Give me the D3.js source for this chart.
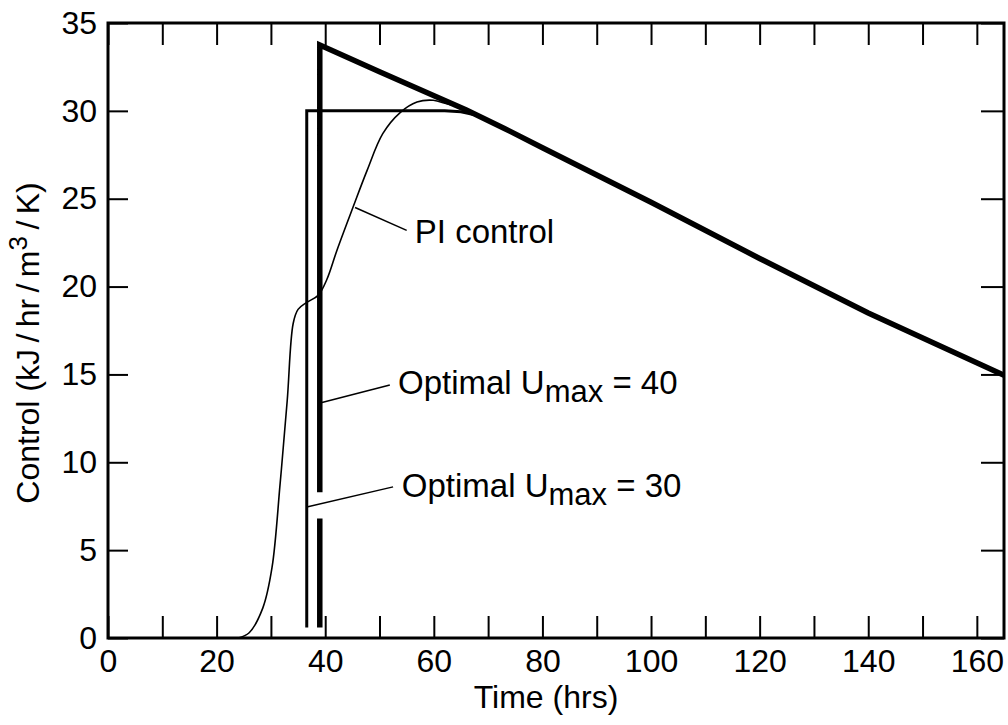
<!DOCTYPE html>
<head>
  <meta charset="utf-8">
  <style>
    body { margin: 0; background: #fff; }
    svg text { font-family: "Liberation Sans", Arial, sans-serif; fill: #000; }
    svg .tick line { stroke: #000; stroke-width: 2px; }
    svg .tick text { font-size: 32px; }
    svg .domain { display: none; }
    svg .frame { fill: none; stroke: #000; stroke-width: 3px; }
    svg .leader { stroke: #000; stroke-width: 1.5px; }
  </style>
</head>

<body>
<script src="https://d3js.org/d3.v7.min.js"></script>

<script>
  // axis ticks
  var xTicks = d3.range(0, 161, 10);
  var yTicks = d3.range(0, 36, 5);

  // PI control (thin line), merges into the optimal curve near t = 66
  var piControl = [
    [24, 0], [26, 0.3], [28.5, 1.7], [30.2, 4.0], [31.7, 8.8], [33, 13.5],
    [34.1, 17.9], [35, 18.7], [36.6, 19.1], [38.7, 19.5], [40.3, 20.4],
    [42.2, 22.1], [45.1, 24.5], [47.7, 26.6], [50.6, 28.7], [53.8, 29.9],
    [56.9, 30.5], [59.9, 30.6], [62.4, 30.4], [65, 30.2], [68, 29.75],
    [80, 27.9], [100, 24.8], [120, 21.6], [140, 18.5], [165, 14.95]
  ];

  // Optimal, Umax = 40 (heavy line); null marks the break behind the leader
  var optimal40 = [
    [39, 0.6], [39, 6.8], [39, null], [39, 8.3], [39, 33.75], [50, 32.22],
    [66, 30.05], [73, 29.0], [80, 27.9], [100, 24.8], [120, 21.6],
    [140, 18.5], [165, 14.95]
  ];

  // Optimal, Umax = 30 (medium line)
  var optimal30 = [
    [36.6, 0.6], [36.6, 30], [62, 30], [65, 29.95], [68, 29.75], [70, 29.45]
  ];

  // labels: leader from [x1,y1] to [x2,y2], text at [tx,ty] (data units)
  var labels = [
    { text: "PI control", sub: null, rest: null, x1: 45.5, y1: 24.5, x2: 55.0, y2: 23.2, tx: 56.5, ty: 22.5 },
    { text: "Optimal U", sub: "max", rest: " = 40", x1: 39.4, y1: 13.4, x2: 51.9, y2: 14.4, tx: 53.4, ty: 13.9 },
    { text: "Optimal U", sub: "max", rest: " = 30", x1: 36.6, y1: 7.45, x2: 52.5, y2: 8.6, tx: 54.1, ty: 8.0 }
  ];

  var margin = { top: 23, right: 4, bottom: 87, left: 108 };
  var W = 1008, H = 725;
  var width = W - margin.left - margin.right,
      height = H - margin.top - margin.bottom;

  var svg = d3.select("body").append("svg")
      .attr("width", W)
      .attr("height", H);

  var g = svg.append("g")
      .attr("transform", "translate(" + margin.left + "," + margin.top + ")");

  var x = d3.scaleLinear().domain([0, 165]).range([0, width]);
  var y = d3.scaleLinear().domain([0, 35]).range([height, 0]);

  // axes, ticks pointing inward
  g.append("g")
      .attr("transform", "translate(0," + height + ")")
      .call(d3.axisBottom(x).tickValues(xTicks).tickSizeInner(-22).tickSizeOuter(0)
        .tickPadding(11)
        .tickFormat(function (d) { return d % 20 === 0 ? d : ""; }));

  g.append("g")
      .call(d3.axisTop(x).tickValues(xTicks).tickSizeInner(-22).tickSizeOuter(0)
        .tickFormat(""));

  g.append("g")
      .call(d3.axisLeft(y).tickValues(yTicks).tickSizeInner(-20).tickSizeOuter(0)
        .tickPadding(11));

  g.append("g")
      .attr("transform", "translate(" + width + ",0)")
      .call(d3.axisRight(y).tickValues(yTicks).tickSizeInner(-23).tickSizeOuter(0)
        .tickFormat(""));

  g.append("rect")
      .classed("frame", true)
      .attr("x", 0).attr("y", 0)
      .attr("width", width).attr("height", height);

  // curves
  var line = d3.line()
      .defined(function (d) { return d[1] !== null; })
      .x(function (d) { return x(d[0]); })
      .y(function (d) { return y(d[1]); });

  var smooth = d3.line()
      .curve(d3.curveCatmullRom.alpha(0.5))
      .x(function (d) { return x(d[0]); })
      .y(function (d) { return y(d[1]); });

  g.append("path")
      .attr("d", smooth(piControl))
      .style("fill", "none")
      .style("stroke", "#000")
      .style("stroke-width", "1.6px");

  g.append("path")
      .attr("d", line(optimal30))
      .style("fill", "none")
      .style("stroke", "#000")
      .style("stroke-width", "3px")
      .style("stroke-linejoin", "miter");

  g.append("path")
      .attr("d", line(optimal40))
      .style("fill", "none")
      .style("stroke", "#000")
      .style("stroke-width", "5.5px")
      .style("stroke-linejoin", "miter");

  // annotations
  labels.forEach(function (l) {
    g.append("line")
        .classed("leader", true)
        .attr("x1", x(l.x1)).attr("y1", y(l.y1))
        .attr("x2", x(l.x2)).attr("y2", y(l.y2));

    var t = g.append("text")
        .attr("x", x(l.tx))
        .attr("y", y(l.ty))
        .style("font-size", "33px")
        .text(l.text);
    if (l.sub) {
      t.append("tspan").attr("dy", 8).style("font-size", "31px").text(l.sub);
      t.append("tspan").attr("dy", -8).text(l.rest);
    }
  });

  // axis titles
  svg.append("text")
      .attr("x", margin.left + width / 2 - 10)
      .attr("y", 708)
      .style("text-anchor", "middle")
      .style("font-size", "32px")
      .text("Time (hrs)");

  var yt = svg.append("text")
      .attr("transform", "translate(39,343) rotate(-90)")
      .style("text-anchor", "middle")
      .style("font-size", "32px");
  yt.append("tspan").text("Control (kJ\u2009/\u2009hr\u2009/\u2009m");
  yt.append("tspan").attr("dy", -12).style("font-size", "26px").text("3");
  yt.append("tspan").attr("dy", 12).text("\u2009/\u2009K)");
</script>
</body>
</html>
